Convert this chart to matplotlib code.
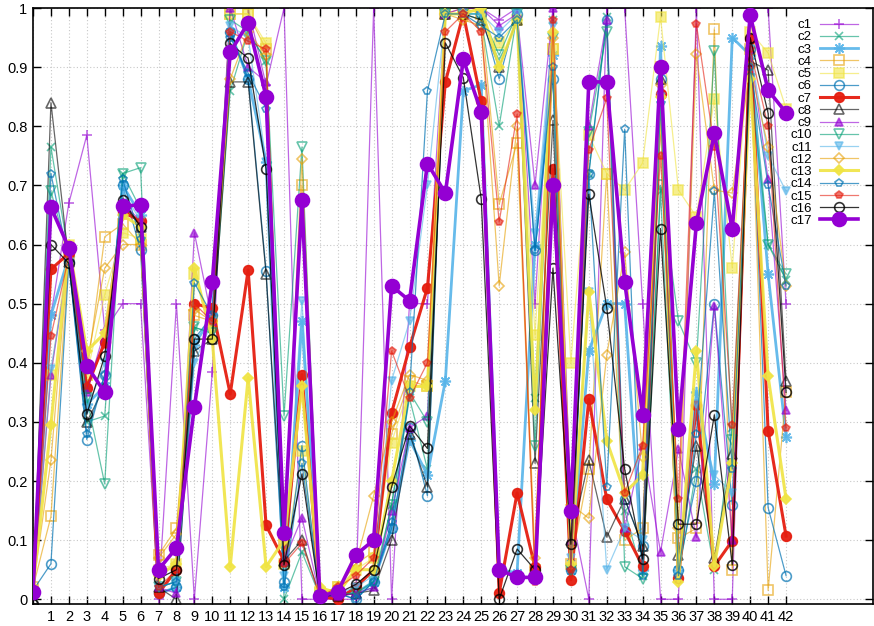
import matplotlib
matplotlib.use("Agg")
import matplotlib.pyplot as plt
from matplotlib.ticker import FormatStrFormatter

plt.rcParams["font.family"] = ["Liberation Sans", "DejaVu Sans"]

x = list(range(43))

c1 = [0.0, 0.48, 0.67, 0.785, 0.455, 0.5, 0.5, 0.0, 0.5, 0.0, 0.385, 1.0, 1.0, 0.87, 1.0, 0.0, 0.0, 0.0, 0.0, 1.0, 0.0,
      0.5, 0.5, 1.0, 1.0, 1.0, 0.98, 1.0, 0.5, 1.0, 0.15, 0.0, 1.0, 1.0, 0.5, 0.0, 0.0, 1.0, 0.0, 0.0, 1.0, 1.0, 0.5]
c2 = [0.01, 0.765, 0.58, 0.30, 0.31, 0.72, 0.66, 0.02, 0.03, 0.46, 0.45, 0.86, 0.96, 0.91, 0.0, 0.08, 0.005, 0.01, 0.01,
      0.02, 0.16, 0.34, 0.22, 0.99, 0.99, 0.98, 0.80, 0.99, 0.34, 0.98, 0.06, 0.72, 0.985, 0.15, 0.04, 0.69, 0.04, 0.22,
      0.05, 0.29, 0.92, 0.60, 0.54]
c3 = [0.01, 0.48, 0.58, 0.33, 0.36, 0.70, 0.65, 0.01, 0.02, 0.43, 0.48, 0.96, 0.88, 0.74, 0.02, 0.47, 0.005, 0.01, 0.01,
      0.03, 0.12, 0.27, 0.21, 0.37, 0.86, 0.87, 0.05, 0.045, 0.60, 0.92, 0.05, 0.42, 0.50, 0.50, 0.05, 0.935, 0.05, 0.35,
      0.195, 0.95, 0.92, 0.55, 0.275]
c4 = [0.02, 0.14, 0.58, 0.38, 0.613, 0.635, 0.60, 0.075, 0.12, 0.48, 0.47, 0.99, 0.99, 0.93, 0.10, 0.70, 0.01, 0.02,
      0.06, 0.08, 0.28, 0.37, 0.36, 0.99, 1.0, 0.99, 0.668, 0.772, 0.05, 0.93, 0.06, 0.22, 0.72, 0.10, 0.12, 0.90, 0.103,
      0.12, 0.965, 0.05, 0.93, 0.015, 0.35]
c5 = [0.01, 0.38, 0.60, 0.38, 0.515, 0.62, 0.61, 0.05, 0.06, 0.55, 0.46, 0.99, 0.99, 0.94, 0.06, 0.25, 0.01, 0.02, 0.05,
      0.07, 0.265, 0.36, 0.36, 1.0, 1.0, 1.0, 0.94, 0.98, 0.447, 0.93, 0.40, 0.785, 0.72, 0.692, 0.738, 0.985, 0.692,
      0.647, 0.846, 0.56, 0.96, 0.924, 0.83]
c6 = [0.015, 0.06, 0.57, 0.27, 0.38, 0.70, 0.59, 0.01, 0.02, 0.44, 0.48, 0.96, 0.88, 0.555, 0.03, 0.26, 0.005, 0.01,
      0.0, 0.03, 0.12, 0.29, 0.175, 0.99, 0.99, 0.99, 0.88, 0.99, 0.59, 0.88, 0.05, 0.72, 0.98, 0.17, 0.09, 0.88, 0.05,
      0.20, 0.50, 0.16, 0.93, 0.155, 0.04]
c7 = [0.01, 0.558, 0.585, 0.358, 0.435, 0.655, 0.64, 0.01, 0.05, 0.50, 0.492, 0.347, 0.557, 0.125, 0.065, 0.38, 0.005,
      0.0, 0.02, 0.05, 0.315, 0.426, 0.527, 0.875, 0.99, 0.842, 0.01, 0.18, 0.054, 0.727, 0.033, 0.338, 0.169, 0.115,
      0.056, 0.854, 0.036, 0.328, 0.056, 0.099, 0.947, 0.285, 0.107]
c8 = [0.0, 0.84, 0.57, 0.30, 0.36, 0.67, 0.63, 0.02, 0.0, 0.42, 0.44, 0.875, 0.875, 0.55, 0.065, 0.10, 0.005, 0.005,
      0.01, 0.015, 0.10, 0.28, 0.19, 0.99, 0.99, 0.98, 0.90, 0.98, 0.23, 0.81, 0.10, 0.235, 0.105, 0.17, 0.09, 0.88,
      0.075, 0.26, 0.07, 0.245, 0.91, 0.895, 0.37]
c9 = [0.01, 0.38, 0.58, 0.35, 0.455, 0.67, 0.64, 0.02, 0.01, 0.62, 0.47, 1.0, 0.90, 0.875, 0.065, 0.138, 0.005, 0.005,
      0.01, 0.02, 0.15, 0.29, 0.31, 0.99, 1.0, 1.0, 0.97, 0.99, 0.70, 1.0, 0.10, 0.80, 0.98, 0.12, 0.26, 0.08, 0.254,
      0.105, 0.496, 0.10, 0.93, 0.71, 0.32]
c10 = [0.01, 0.69, 0.58, 0.34, 0.195, 0.72, 0.73, 0.02, 0.03, 0.46, 0.45, 0.98, 0.96, 0.91, 0.31, 0.765, 0.005, 0.01,
       0.01, 0.03, 0.16, 0.35, 0.30, 0.99, 0.99, 0.99, 0.92, 0.99, 0.26, 0.95, 0.05, 0.79, 0.96, 0.055, 0.035, 0.70,
       0.47, 0.40, 0.927, 0.27, 0.88, 0.60, 0.55]
c11 = [0.01, 0.39, 0.57, 0.32, 0.40, 0.69, 0.64, 0.02, 0.03, 0.40, 0.47, 0.97, 0.95, 0.74, 0.04, 0.505, 0.005, 0.01,
       0.02, 0.04, 0.37, 0.47, 0.70, 0.99, 0.99, 0.99, 0.96, 0.99, 0.62, 0.97, 0.07, 0.52, 0.05, 0.12, 0.10, 0.85, 0.04,
       0.33, 0.21, 0.18, 0.93, 0.75, 0.69]
c12 = [0.02, 0.235, 0.59, 0.40, 0.56, 0.60, 0.60, 0.07, 0.11, 0.49, 0.47, 0.88, 0.96, 0.92, 0.09, 0.745, 0.01, 0.02,
       0.06, 0.175, 0.30, 0.38, 0.37, 0.99, 0.98, 0.97, 0.53, 0.80, 0.07, 0.95, 0.16, 0.137, 0.413, 0.587, 0.24, 0.87,
       0.12, 0.922, 0.692, 0.687, 0.90, 0.765, 0.53]
c13 = [0.02, 0.295, 0.60, 0.42, 0.45, 0.65, 0.63, 0.04, 0.06, 0.56, 0.44, 0.055, 0.375, 0.055, 0.10, 0.36, 0.02, 0.01,
       0.05, 0.05, 0.20, 0.36, 0.36, 0.99, 0.99, 1.0, 0.90, 0.98, 0.32, 0.96, 0.06, 0.52, 0.268, 0.18, 0.21, 0.85, 0.03,
       0.42, 0.056, 0.23, 0.88, 0.377, 0.17]
c14 = [0.015, 0.72, 0.57, 0.28, 0.38, 0.71, 0.61, 0.02, 0.03, 0.535, 0.48, 0.95, 0.89, 0.83, 0.02, 0.23, 0.005, 0.01,
       0.0, 0.03, 0.13, 0.35, 0.86, 0.99, 0.99, 0.97, 0.95, 0.98, 0.59, 0.90, 0.05, 0.719, 0.19, 0.795, 0.04, 0.84, 0.04,
       0.28, 0.69, 0.22, 0.90, 0.70, 0.53]
c15 = [0.01, 0.445, 0.58, 0.36, 0.43, 0.66, 0.64, 0.02, 0.05, 0.50, 0.47, 0.96, 0.944, 0.93, 0.06, 0.095, 0.005, 0.02,
       0.04, 0.07, 0.42, 0.34, 0.40, 0.96, 0.99, 0.96, 0.638, 0.82, 0.03, 0.98, 0.05, 0.76, 0.847, 0.18, 0.26, 0.75, 0.17,
       0.973, 0.765, 0.295, 0.93, 0.80, 0.29]
c16 = [-0.008, 0.60, 0.568, 0.313, 0.412, 0.675, 0.630, 0.035, 0.050, 0.440, 0.440, 0.940, 0.915, 0.728, 0.058, 0.212,
       0.003, 0.01, 0.025, 0.05, 0.19, 0.293, 0.255, 0.941, 0.882, 0.677, 0.0, 0.085, 0.05, 0.56, 0.093, 0.685, 0.493,
       0.22, 0.068, 0.627, 0.127, 0.127, 0.312, 0.058, 0.950, 0.822, 0.35]
c17 = [0.012, 0.663, 0.594, 0.395, 0.350, 0.665, 0.667, 0.050, 0.087, 0.325, 0.537, 0.925, 0.975, 0.850, 0.112, 0.675,
       0.005, 0.013, 0.075, 0.100, 0.530, 0.505, 0.737, 0.687, 0.913, 0.824, 0.050, 0.037, 0.037, 0.700, 0.150, 0.875,
       0.875, 0.537, 0.312, 0.900, 0.288, 0.636, 0.788, 0.626, 0.988, 0.861, 0.823]

series = [c1, c2, c3, c4, c5, c6, c7, c8, c9, c10, c11, c12, c13, c14, c15, c16, c17]
names = ["c%d" % (i + 1) for i in range(17)]

palette = ["#9400D3", "#009E73", "#56B4E9", "#E69F00", "#F0E442", "#0072B2", "#E51E10", "#000000"]
# (marker, filled, size, linewidth, alpha)
styles = [
    ("+", True, 7, 0.9, 0.6),
    ("x", True, 6, 0.9, 0.6),
    ((8, 2, 0), True, 8, 2.0, 0.9),
    ("s", False, 7, 0.9, 0.6),
    ("s", True, 7, 0.9, 0.6),
    ("o", False, 7, 0.9, 0.7),
    ("o", True, 7, 2.2, 0.95),
    ("^", False, 7, 0.9, 0.6),
    ("^", True, 6, 0.9, 0.6),
    ("v", False, 7, 0.9, 0.6),
    ("v", True, 6, 0.9, 0.6),
    ("D", False, 5, 0.9, 0.6),
    ("D", True, 5, 2.2, 0.9),
    ("p", False, 6, 0.9, 0.7),
    ("p", True, 6, 0.9, 0.6),
    ("o", False, 7, 0.9, 0.8),
    ("o", True, 10, 2.6, 1.0),
]

fig = plt.figure(figsize=(8.74, 6.26), dpi=100)
ax = fig.add_axes([33 / 874, 22 / 626, 840 / 874, 596 / 626])

for i, (vals, name) in enumerate(zip(series, names)):
    marker, filled, ms, lw, alpha = styles[i]
    color = palette[i % 8]
    ax.plot(x, vals, color=color, lw=lw, alpha=alpha, marker=marker, markersize=ms,
            markerfacecolor=color if filled else "none", markeredgecolor=color,
            markeredgewidth=1.2, label=name, zorder=2 + i * 0.1)

ax.set_xlim(0, 46.85)
ax.set_ylim(-0.008, 1.0)
ax.set_xticks(range(43))
ax.set_xticklabels([""] + [str(v) for v in range(1, 43)])
ax.set_yticks([i / 10 for i in range(11)])
ax.yaxis.set_major_formatter(FormatStrFormatter("%g"))
ax.tick_params(direction="in", top=True, right=True, length=6, width=1, labelsize=10.5, pad=4)
ax.grid(True, color="#c8c8c8", linestyle=(0, (1, 2)), linewidth=0.8)
for sp in ax.spines.values():
    sp.set_linewidth(1.2)

# markerfirst=False right-aligns the labels, like the gnuplot key
ax.legend(loc="upper right", bbox_to_anchor=(0.993, 0.997), frameon=False, markerfirst=False,
          fontsize=9.5, labelspacing=0.0, handlelength=2.9, handletextpad=0.6, borderaxespad=0.3)

fig.savefig("out.png", dpi=100)
